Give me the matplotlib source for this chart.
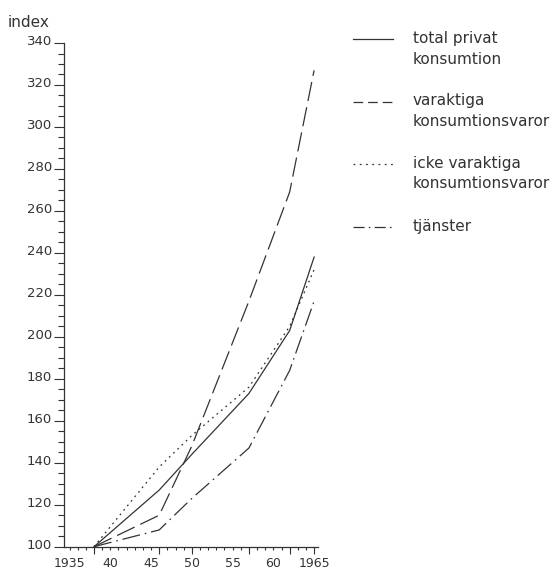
import matplotlib.pyplot as plt
import matplotlib.transforms as mtransforms
from matplotlib.ticker import MultipleLocator, FixedLocator, FuncFormatter, NullFormatter
from matplotlib.lines import Line2D

# index values (1938 = 100)
years = [1938, 1946, 1950, 1957, 1962, 1965]
total = [100, 127, 144, 173, 203, 238]
varaktiga = [100, 115, 148, 217, 269, 327]
icke_varaktiga = [100, 138, 153, 176, 205, 232]
tjanster = [100, 108, 123, 147, 184, 217]

series_labels = [
    "total privat\nkonsumtion",
    "varaktiga\nkonsumtionsvaror",
    "icke varaktiga\nkonsumtionsvaror",
    "tjänster",
]
label_years = [1935, 1940, 1945, 1950, 1955, 1960, 1965]
label_texts = ["1935", "40", "45", "50", "55", "60", "1965"]

ink = "#333333"
plt.rcParams["lines.scale_dashes"] = False

styles = [
    "-",
    (0, (14, 4.5)),
    (0, (1.3, 2.9)),
    (0, (13, 3.5, 1.2, 3.5)),
]
legend_styles = [
    "-",
    (0, (7, 3.5)),
    (0, (1.3, 3.2)),
    (0, (8, 3, 1.2, 3)),
]

fig = plt.figure(figsize=(5.6, 5.69), dpi=100)
ax = fig.add_axes([0.1143, 0.0392, 0.4536, 0.8852])

for vals, ls in zip([total, varaktiga, icke_varaktiga, tjanster], styles):
    ax.plot(years, vals, color=ink, lw=0.9, linestyle=ls)

ax.set_xlim(1934.32, 1965.48)
ax.set_ylim(100, 340)

for side in ["top", "right"]:
    ax.spines[side].set_visible(False)
for side in ["left", "bottom"]:
    ax.spines[side].set_color(ink)
    ax.spines[side].set_linewidth(0.9)

# long ticks at the observation years, short ticks every year
ax.xaxis.set_major_locator(FixedLocator(years))
ax.xaxis.set_major_formatter(NullFormatter())
ax.xaxis.set_minor_locator(MultipleLocator(1))
ax.xaxis.remove_overlapping_locs = False
year_lookup = dict(zip(label_years, label_texts))
ax.xaxis.set_minor_formatter(
    FuncFormatter(lambda v, pos: year_lookup.get(int(round(v)), ""))
)
ax.tick_params(axis="x", which="major", length=5, width=0.8, color=ink)
ax.tick_params(axis="x", which="minor", length=2.4, width=0.8, color=ink,
               pad=5, labelsize=9, labelcolor=ink)

ax.yaxis.set_major_locator(MultipleLocator(20))
ax.yaxis.set_minor_locator(MultipleLocator(5))
ax.tick_params(axis="y", which="major", length=7, width=0.8, color=ink,
               pad=1.5, labelsize=9.5, labelcolor=ink)
ax.tick_params(axis="y", which="minor", length=4.3, width=0.8, color=ink)

# y labels sit a little above their ticks in the original
lift = mtransforms.ScaledTranslation(0, 2 / 72, fig.dpi_scale_trans)
for tick in ax.yaxis.get_major_ticks():
    tick.label1.set_transform(tick.label1.get_transform() + lift)

fig.text(8 / 560, 1 - 26.7 / 569, "index", va="baseline", ha="left",
         fontsize=11, color=ink)

# legend drawn beside the plot, handle level with the first text line
W, H = 560, 569
for i, (label, ls) in enumerate(zip(series_labels, legend_styles)):
    y_px = 39 + i * 62.5
    fig.add_artist(Line2D([353 / W, 393 / W], [1 - y_px / H, 1 - y_px / H],
                          color=ink, lw=0.9, linestyle=ls))
    for j, line in enumerate(label.split("\n")):
        base = y_px + 4 + j * 20.5
        fig.text(413 / W, 1 - base / H, line, va="baseline", ha="left",
                 fontsize=11, color=ink)

fig.savefig("out.png", dpi=100, facecolor="white")
